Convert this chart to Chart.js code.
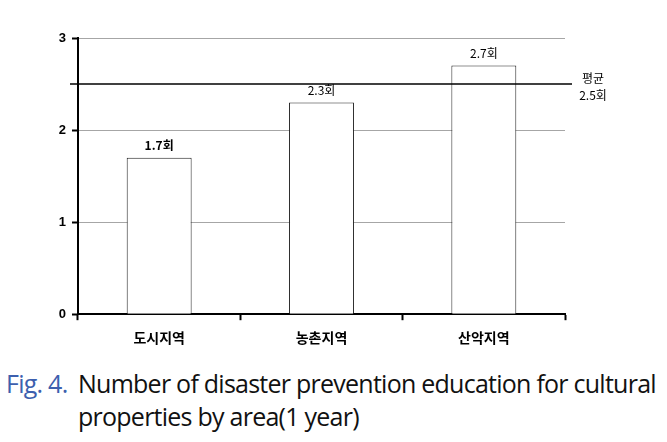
<!DOCTYPE html>
<html>
<head>
<meta charset="utf-8">
<script src="https://cdn.jsdelivr.net/npm/chart.js@4"></script>
<style>
  html, body { margin: 0; padding: 0; background: #fff; }
  #wrap { position: relative; width: 667px; height: 442px; }
  #box { position: absolute; left: 0; top: 0; width: 667px; height: 355px; }
  .cap { position: absolute; left: 0; top: 367px; width: 667px; font-family: "Open Sans", sans-serif; font-size: 25px; line-height: 33px; color: #111; letter-spacing: -0.75px; white-space: nowrap; }
  .cap .fig { position: absolute; left: 6px; top: 0; color: #3d5fae; }
  .cap .txt { position: absolute; left: 78px; top: 0; }
</style>
</head>
<body>
<div id="wrap">
  <div id="box"><canvas id="grafico"></canvas></div>
  <div class="cap">
    <span class="fig">Fig. 4.</span>
    <span class="txt">Number of disaster prevention education for cultural<br>properties by area(1 year)</span>
  </div>
</div>
<script>
const categorias = ["도시지역", "농촌지역", "산악지역"];
const valores = [1.7, 2.3, 2.7];
const promedio = 2.5;
const ticksY = [0, 1, 2, 3];

const fuenteKr = '"Noto Sans CJK KR", "Noto Sans", sans-serif';

const etiquetas = {
    id: "etiquetas",
    afterDatasetsDraw(chart) {
        const ctx = chart.ctx;
        const y = chart.scales.y;
        const area = chart.chartArea;
        ctx.save();

        // linea de promedio
        const yp = y.getPixelForValue(promedio);
        ctx.strokeStyle = "#000";
        ctx.lineWidth = 1.5;
        ctx.beginPath();
        ctx.moveTo(area.left - 8, yp);
        ctx.lineTo(area.right + 7, yp);
        ctx.stroke();

        ctx.fillStyle = "#000";
        ctx.textAlign = "center";
        ctx.textBaseline = "middle";
        ctx.font = "12px " + fuenteKr;
        ctx.fillText("평균", area.right + 28, yp - 6);
        ctx.fillText(promedio + "회", area.right + 28, yp + 11);

        // valores encima de las barras
        const meta = chart.getDatasetMeta(0);
        meta.data.forEach((bar, i) => {
            ctx.font = (i === 0 ? "bold " : "") + "12px " + fuenteKr;
            ctx.fillText(valores[i] + "회", bar.x, bar.y - 12);
        });
        ctx.restore();
    }
};

new Chart(document.getElementById("grafico"), {
    type: "bar",
    data: {
        labels: categorias,
        datasets: [{
            data: valores,
            backgroundColor: "#ffffff",
            borderColor: "#222",
            borderWidth: 1,
            barPercentage: 0.4,
            categoryPercentage: 1.0
        }]
    },
    options: {
        responsive: true,
        maintainAspectRatio: false,
        animation: false,
        layout: { padding: { left: 40, right: 102, top: 38, bottom: 0 } },
        plugins: {
            legend: { display: false },
            tooltip: { enabled: false }
        },
        scales: {
            x: {
                grid: {
                    offset: true,
                    drawOnChartArea: false,
                    drawTicks: true,
                    tickLength: 6,
                    tickColor: "#000",
                    tickWidth: 2
                },
                border: { color: "#000", width: 2 },
                ticks: {
                    color: "#000",
                    padding: 9,
                    font: { family: fuenteKr, size: 14, weight: "bold" }
                }
            },
            y: {
                min: 0,
                max: 3,
                afterBuildTicks(scale) {
                    scale.ticks = ticksY.map(v => ({ value: v }));
                },
                afterFit(scale) { scale.width = 38; },
                grid: {
                    color: "#a6a6a6",
                    lineWidth: 1,
                    tickLength: 6,
                    tickColor: "#000",
                    tickWidth: 2
                },
                border: { color: "#000", width: 2 },
                ticks: {
                    color: "#000",
                    padding: 6,
                    font: { family: '"Liberation Sans", sans-serif', size: 13, weight: "bold" }
                }
            }
        }
    },
    plugins: [etiquetas]
});
</script>
</body>
</html>
